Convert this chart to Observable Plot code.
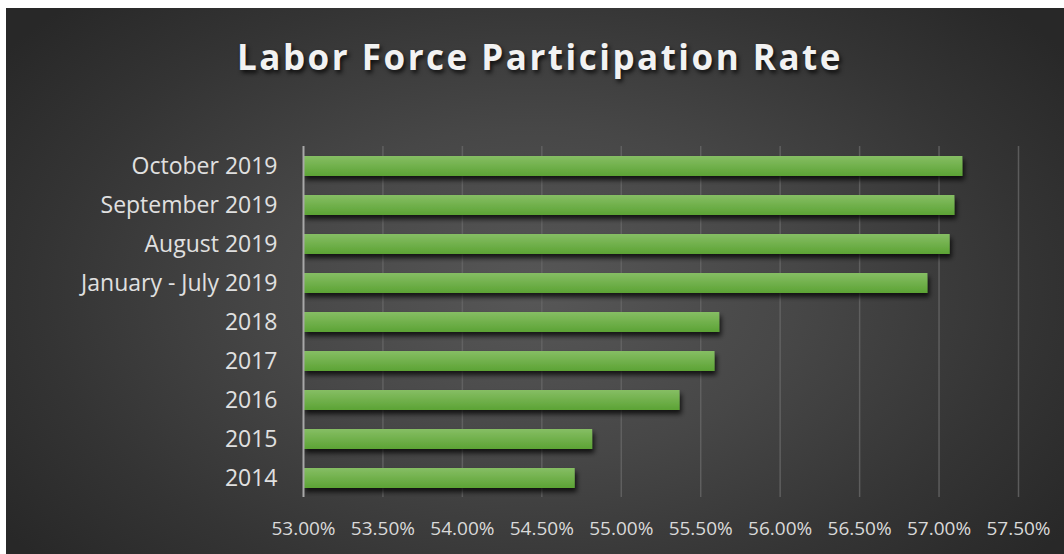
<!DOCTYPE html>
<html>
<head>
<meta charset="utf-8">
<script src="https://cdn.jsdelivr.net/npm/d3@7"></script>
<script src="https://cdn.jsdelivr.net/npm/@observablehq/plot@0.6"></script>
<style>
  html, body { margin: 0; padding: 0; background: #ffffff; width: 1064px; height: 554px; overflow: hidden; }
  #bg { position: absolute; left: 6px; top: 8px; width: 1058px; height: 546px;
        background: radial-gradient(ellipse 62% 75% at 50% 52%, #575757 0%, #474747 40%, #343434 75%, #282828 100%); }
  #title { position: absolute; left: 140px; width: 800px; top: 29px; text-align: center;
           font-family: "Open Sans", sans-serif; font-weight: 700; font-size: 35px; letter-spacing: 2.5px;
           color: #f2f2f2; text-shadow: 2px 3px 4px rgba(0,0,0,0.75); line-height: 56px; }
  #chart { position: absolute; left: 0; top: 100px; }
</style>
</head>
<body>
<div id="bg"></div>
<div id="title">Labor Force Participation Rate</div>
<div id="chart"></div>
<script>
const categories = ["October 2019", "September 2019", "August 2019", "January - July 2019", "2018", "2017", "2016", "2015", "2014"];
const values = [57.15, 57.10, 57.07, 56.93, 55.62, 55.59, 55.37, 54.82, 54.71];
const axisMin = 53;
const axisMax = 57.5;
const xTicks = [53, 53.5, 54, 54.5, 55, 55.5, 56, 56.5, 57, 57.5];
const gridTicks = [53.5, 54, 54.5, 55, 55.5, 56, 56.5, 57, 57.5];

const data = categories.map((c, i) => ({label: c, value: values[i]}));

const plot = Plot.plot({
  width: 1064,
  height: 454,
  marginTop: 46,
  marginBottom: 57,
  marginLeft: 303,
  marginRight: 46,
  style: {background: "transparent", fontFamily: "'Open Sans', sans-serif"},
  x: {domain: [axisMin, axisMax], axis: null},
  y: {domain: categories, paddingInner: 0.49, paddingOuter: 0.245, axis: null},
  marks: [
    Plot.ruleX(gridTicks, {stroke: "#666666", strokeWidth: 1.5, strokeOpacity: 0.8}),
    Plot.barX(data, {x1: () => axisMin, x2: "value", y: "label", fill: "url(#barGrad)"}),
    Plot.ruleX([axisMin], {stroke: "#a8a8a8", strokeWidth: 2}),
    Plot.axisX(xTicks, {tickSize: 0, tickPadding: 24, tickFormat: d => d.toFixed(2) + "%",
      fill: "#d9d9d9", fontSize: 19, anchor: "bottom", label: null}),
    Plot.axisY(categories, {tickSize: 0, tickPadding: 26, fill: "#e0e0e0", fontSize: 23, anchor: "left", label: null})
  ]
});

const svg = d3.select(plot);
const defs = svg.insert("defs", ":first-child");
const grad = defs.append("linearGradient").attr("id", "barGrad").attr("x1", 0).attr("y1", 0).attr("x2", 0).attr("y2", 1);
grad.append("stop").attr("offset", "0%").attr("stop-color", "#86be64");
grad.append("stop").attr("offset", "100%").attr("stop-color", "#5ca334");
const f = defs.append("filter").attr("id", "shadow").attr("x", "-5%").attr("y", "-50%").attr("width", "115%").attr("height", "250%");
f.append("feDropShadow").attr("dx", 2).attr("dy", 4).attr("stdDeviation", 2.5).attr("flood-color", "#000").attr("flood-opacity", 0.75);
svg.selectAll("g[aria-label=bar]").attr("filter", "url(#shadow)");

document.getElementById("chart").appendChild(plot);
</script>
</body>
</html>
